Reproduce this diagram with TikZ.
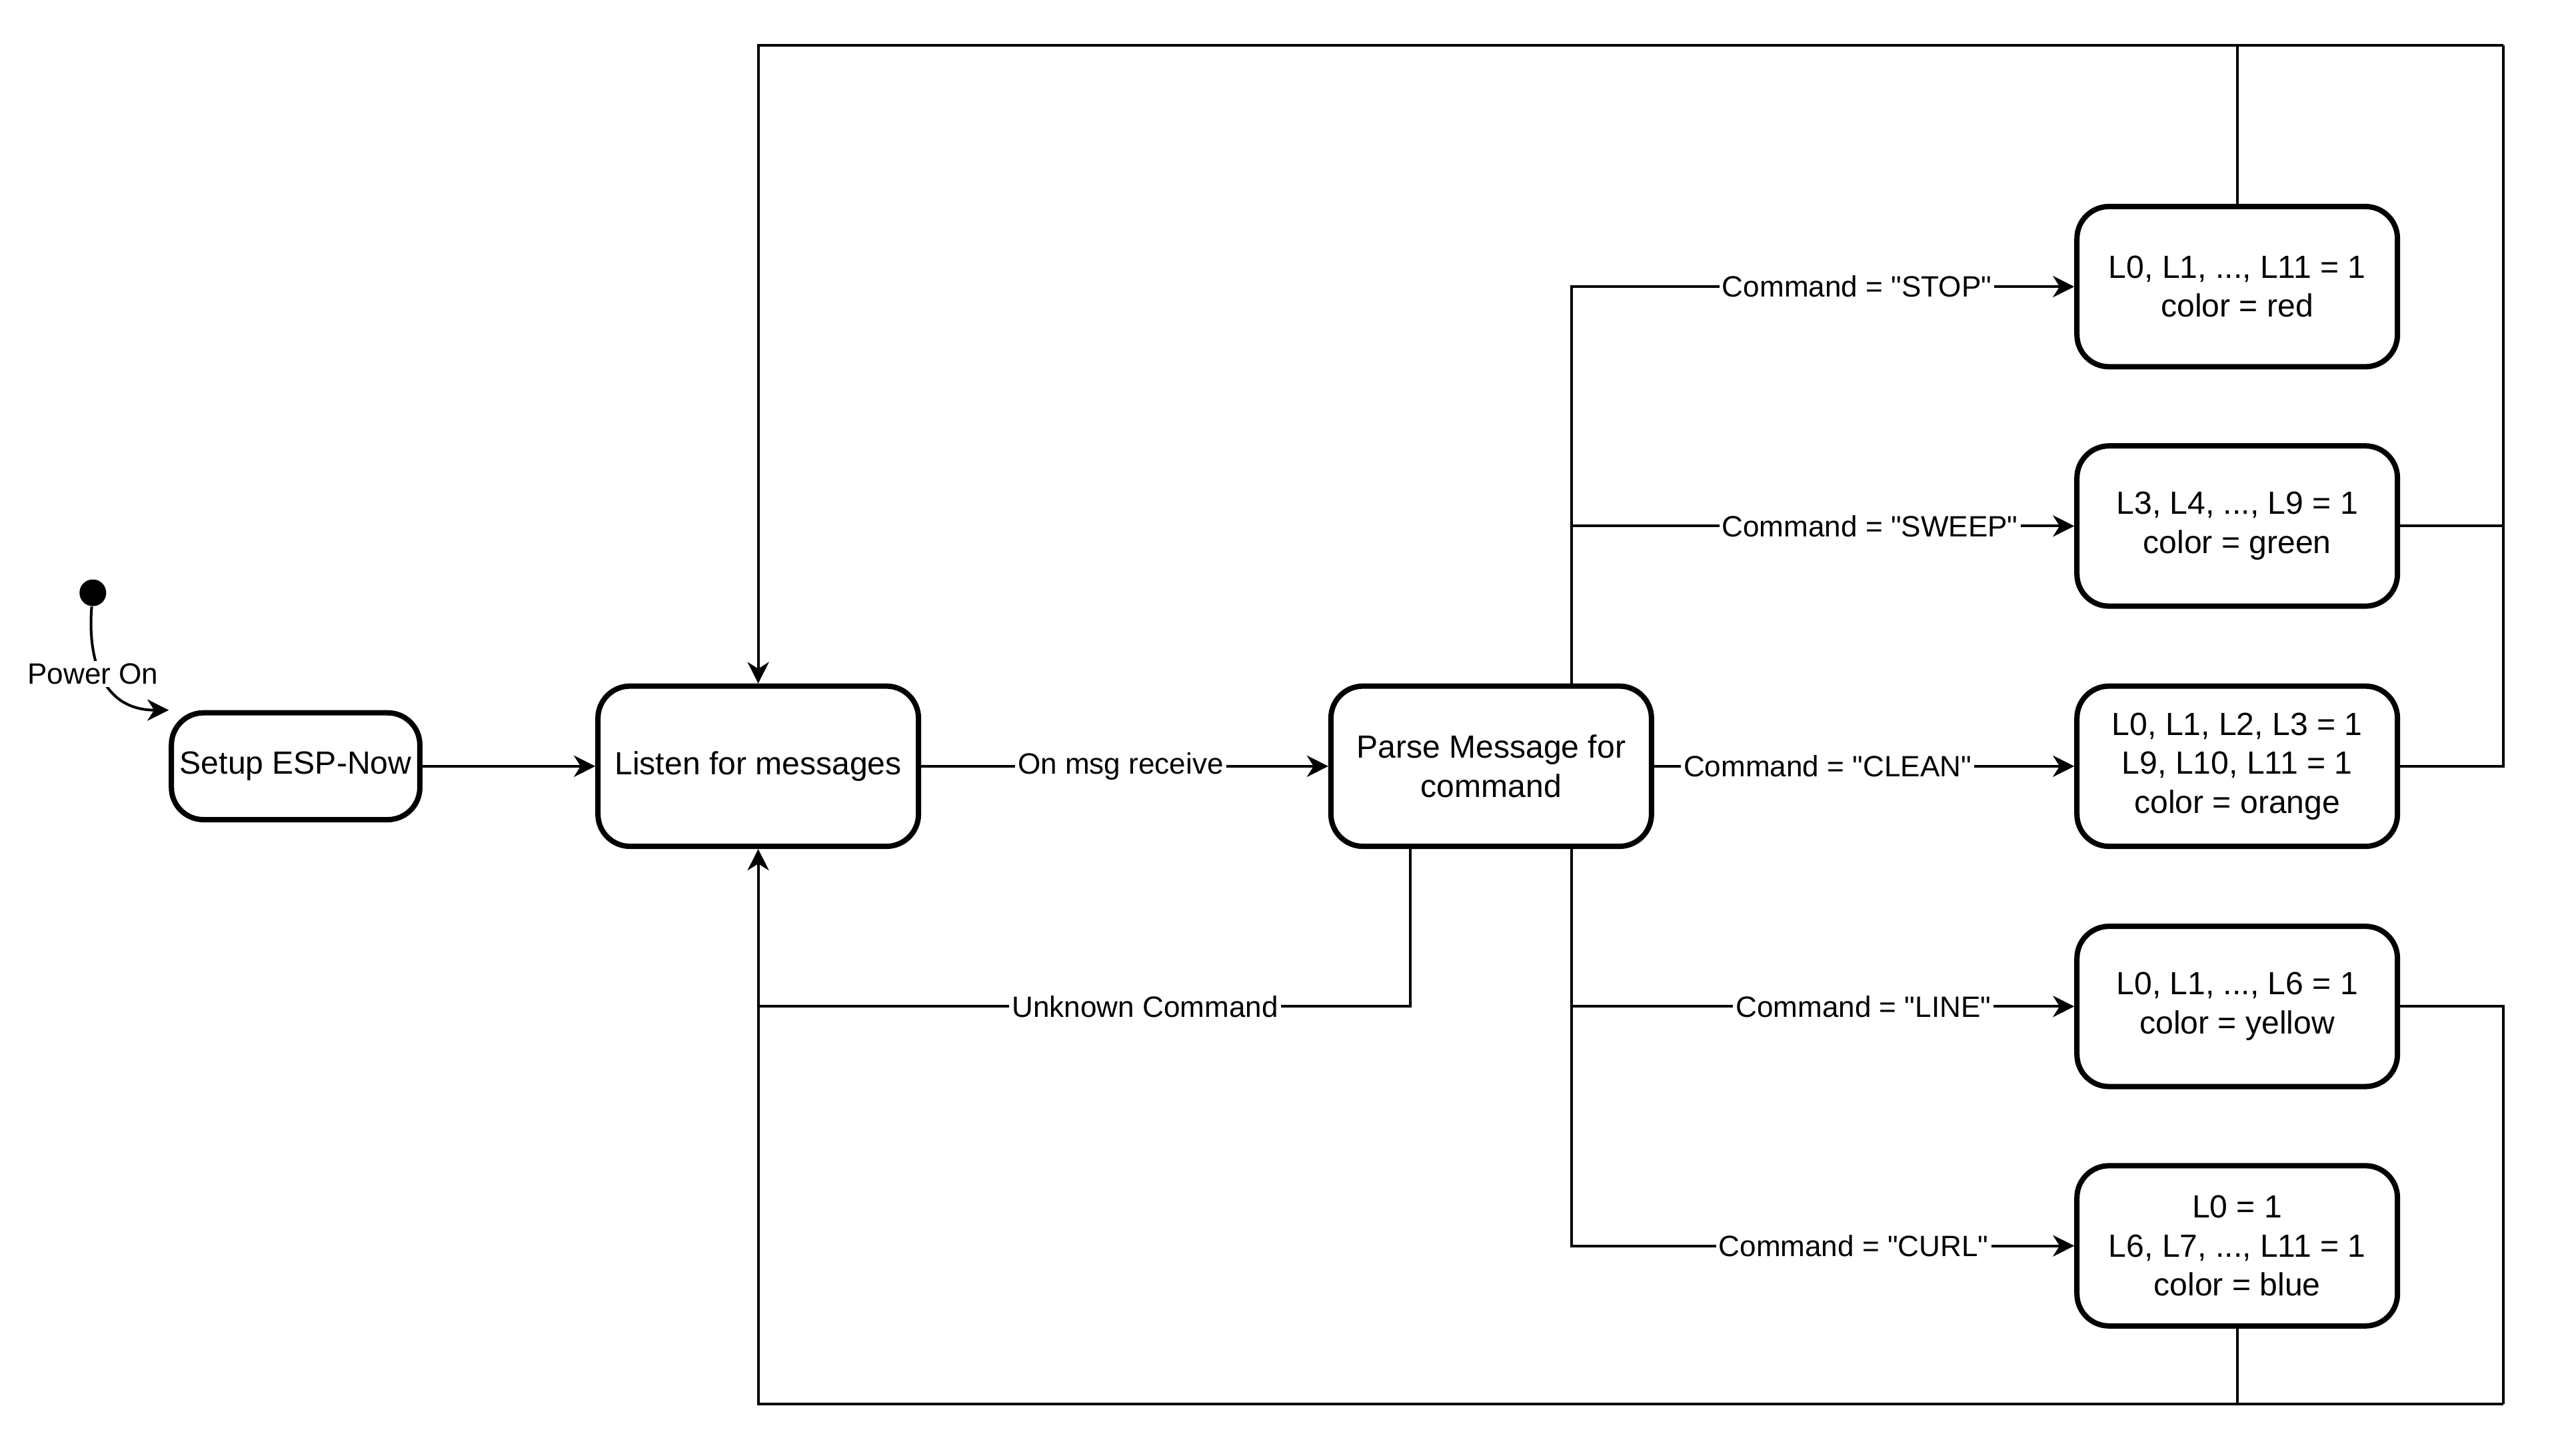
\documentclass[tikz,border=0pt]{standalone}
\usepackage{fontspec}
\setmainfont{Liberation Sans}
\usetikzlibrary{arrows.meta,calc}
\newcommand{\q}{\textquotedbl}
\begin{document}
\begin{tikzpicture}[x=0.6098pt,y=-0.6098pt,
  state/.style={draw,line width=2pt,rounded corners=12pt,align=center,
    minimum width=120pt,minimum height=60pt,inner sep=2pt,
    font=\fontsize{12}{14.6}\selectfont},
  lbl/.style={fill=white,inner sep=1pt,font=\fontsize{11}{13}\selectfont},
  conn/.style={line width=1pt},
  arr/.style={conn,-{Stealth[length=8pt,width=8pt,inset=2.5pt]}}]
\useasboundingbox (0,0) rectangle (1568,894);

% nodes
\node[circle,fill=black,inner sep=0pt,minimum size=10pt] (dot) at (57,364) {};
\node[state,minimum width=93pt,minimum height=40pt] (setup) at (181.5,470.5) {Setup ESP-Now};
\node[state] (listen) at (465.5,470.5) {Listen for messages};
\node[state] (parse) at (915.5,470.5) {Parse Message for\\command};
\node[state] (stop) at (1373.5,176) {L0, L1, ..., L11 = 1\\color = red};
\node[state] (sweep) at (1373.5,323) {L3, L4, ..., L9 = 1\\color = green};
\node[state] (clean) at (1373.5,470.5) {L0, L1, L2, L3 = 1\\L9, L10, L11 = 1\\color = orange};
\node[state] (line) at (1373.5,618) {L0, L1, ..., L6 = 1\\color = yellow};
\node[state] (curl) at (1373.5,765) {L0 = 1\\L6, L7, ..., L11 = 1\\color = blue};

\coordinate (tr) at (1537,28);
\coordinate (br) at (1537,862);

% connectors
\draw[arr] (dot) .. controls (54,400) and (60,436) .. (setup.north west);
\node[lbl] (lpower) at (57,414) {Power On};

\draw[arr] (setup) -- (listen);
\draw[arr] (listen) -- (parse);
\node[lbl] (lmsg) at (688,470.5) {On msg receive};

\draw[arr] ($(parse.north)+(49.5,0)$) |- (stop.west);
\draw[arr] ($(parse.north)+(49.5,0)$) |- (sweep.west);
\draw[arr] (parse) -- (clean);
\draw[arr] ($(parse.south)+(49.5,0)$) |- (line.west);
\draw[arr] ($(parse.south)+(49.5,0)$) |- (curl.west);
\node[lbl] (lstop) at (1140,176) {Command = \q STOP\q};
\node[lbl] (lsweep) at (1148,323) {Command = \q SWEEP\q};
\node[lbl] (lclean) at (1122,470.5) {Command = \q CLEAN\q};
\node[lbl] (lline) at (1144,618) {Command = \q LINE\q};
\node[lbl] (lcurl) at (1138,765) {Command = \q CURL\q};

% return loops (top)
\draw[conn] (stop.north) -- (stop.north |- tr);
\draw[conn] (sweep.east) -| (tr);
\draw[conn] (clean.east) -| (tr);
\draw[arr] (tr) -| (listen.north);

% return loops (bottom)
\draw[conn] (line.east) -| (br);
\draw[conn] (curl.south) -- (curl.south |- br);
\draw[arr] (br) -| (listen.south);
\draw[conn] ($(parse.south)+(-49.5,0)$) |- (listen.south |- line.west);
\node[lbl] (lunk) at (703,618) {Unknown Command};
\end{tikzpicture}
\end{document}
